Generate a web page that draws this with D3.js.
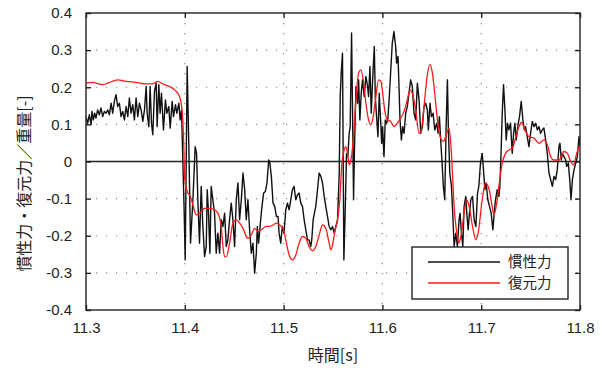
<!DOCTYPE html>
<html>
<head>
<meta charset="utf-8">
<script src="https://cdn.jsdelivr.net/npm/d3@7"></script>
<style>
  body { margin: 0; background: #fff; }
  svg text { font-family: "Liberation Sans", Arial, sans-serif; fill: #222; }
  .jp { font-family: "Noto Sans CJK JP", sans-serif; }
</style>
</head>
<body>
<svg id="chart" width="602" height="368"></svg>
<script>
// time [s] / value pairs
const inertiaT = [11.3000,11.3017,11.3034,11.3051,11.3061,11.3074,11.3088,11.3101,11.3118,11.3135,11.3152,11.3169,11.3186,11.3203,11.3220,11.3237,11.3254,11.3270,11.3287,11.3304,11.3321,11.3338,11.3355,11.3372,11.3389,11.3406,11.3423,11.3439,11.3456,11.3473,11.3490,11.3507,11.3524,11.3541,11.3558,11.3575,11.3592,11.3609,11.3619,11.3636,11.3649,11.3663,11.3676,11.3693,11.3710,11.3720,11.3737,11.3750,11.3764,11.3784,11.3804,11.3818,11.3838,11.3852,11.3872,11.3886,11.3906,11.3919,11.3940,11.3953,11.3967,11.3980,11.3994,11.4004,
  11.4024,11.4041,11.4058,11.4082,11.4105,11.4119,11.4132,11.4149,11.4166,11.4183,11.4200,11.4217,11.4227,11.4240,11.4254,11.4267,11.4284,11.4301,11.4318,11.4335,11.4352,11.4369,11.4386,11.4403,11.4420,11.4436,11.4453,11.4470,11.4487,11.4504,11.4521,11.4538,11.4555,11.4572,11.4589,11.4606,11.4622,11.4639,11.4656,11.4673,11.4690,11.4707,11.4724,11.4734,11.4747,11.4768,11.4781,11.4798,11.4815,11.4832,11.4849,11.4859,11.4876,11.4893,11.4910,11.4927,11.4944,11.4954,11.4971,11.4987,11.5004,
  11.5022,11.5039,11.5056,11.5073,11.5089,11.5106,11.5123,11.5140,11.5157,11.5174,11.5191,11.5208,11.5225,11.5242,11.5258,11.5275,11.5285,11.5299,11.5312,11.5326,11.5343,11.5360,11.5377,11.5394,11.5411,11.5427,11.5444,11.5461,11.5478,11.5495,11.5512,11.5529,11.5546,11.5563,11.5573,11.5583,11.5596,11.5610,11.5623,11.5637,11.5650,11.5664,11.5674,11.5688,11.5698,11.5708,11.5718,11.5732,11.5749,11.5759,11.5772,11.5786,11.5799,11.5816,11.5833,11.5850,11.5860,11.5874,11.5887,11.5901,11.5918,11.5928,11.5941,11.5955,11.5968,11.5985,
  11.5992,11.6002,11.6016,11.6029,11.6043,11.6056,11.6070,11.6083,11.6100,11.6117,11.6134,11.6144,11.6158,11.6168,11.6178,11.6192,11.6205,11.6219,11.6236,11.6252,11.6269,11.6286,11.6303,11.6320,11.6337,11.6354,11.6371,11.6388,11.6405,11.6421,11.6438,11.6455,11.6465,11.6482,11.6496,11.6513,11.6530,11.6550,11.6563,11.6577,11.6590,11.6604,11.6617,11.6631,11.6645,11.6658,11.6668,11.6682,11.6699,11.6712,11.6726,11.6743,11.6759,11.6776,11.6786,11.6800,11.6814,11.6827,11.6844,11.6854,11.6868,11.6881,11.6895,11.6912,11.6929,11.6946,11.6963,
  11.6976,11.6993,11.7010,11.7023,11.7037,11.7050,11.7067,11.7084,11.7101,11.7118,11.7132,11.7145,11.7162,11.7179,11.7189,11.7203,11.7213,11.7226,11.7240,11.7253,11.7267,11.7280,11.7297,11.7314,11.7328,11.7341,11.7355,11.7375,11.7388,11.7405,11.7422,11.7436,11.7449,11.7466,11.7483,11.7500,11.7517,11.7534,11.7551,11.7568,11.7585,11.7601,11.7618,11.7635,11.7652,11.7669,11.7686,11.7703,11.7720,11.7737,11.7754,11.7770,11.7787,11.7797,11.7811,11.7821,11.7838,11.7855,11.7865,11.7882,11.7896,11.7909,11.7923,11.7940,11.7957,11.7973,11.7990,11.8000];
const inertiaV = [0.121,0.103,0.126,0.099,0.135,0.112,0.130,0.117,0.139,0.126,0.144,0.121,0.135,0.130,0.139,0.126,0.157,0.130,0.162,0.180,0.148,0.157,0.121,0.135,0.112,0.148,0.121,0.171,0.130,0.153,0.112,0.171,0.121,0.157,0.139,0.108,0.139,0.202,0.130,0.094,0.202,0.103,0.072,0.189,0.211,0.094,0.207,0.130,0.184,0.085,0.166,0.130,0.148,0.090,0.162,0.121,0.153,0.130,0.157,0.112,0.139,0.004,-0.139,-0.265,
  0.256,0.040,-0.220,-0.103,0.040,0.022,-0.103,-0.220,-0.067,-0.175,-0.256,-0.229,-0.076,-0.139,-0.247,-0.067,-0.103,-0.139,-0.247,-0.193,-0.247,-0.157,-0.175,-0.139,-0.229,-0.211,-0.157,-0.112,-0.157,-0.229,-0.103,-0.058,-0.157,-0.103,-0.031,-0.076,-0.157,-0.103,-0.184,-0.247,-0.220,-0.301,-0.247,-0.175,-0.220,-0.157,-0.121,-0.085,-0.081,-0.058,0.004,0.000,-0.040,-0.112,-0.121,-0.148,-0.148,-0.193,-0.220,-0.175,-0.193,
  -0.130,-0.112,-0.130,-0.103,-0.076,-0.067,-0.103,-0.090,-0.085,-0.112,-0.121,-0.157,-0.184,-0.211,-0.211,-0.229,-0.211,-0.157,-0.139,-0.121,-0.076,-0.031,-0.040,-0.058,-0.094,-0.121,-0.148,-0.175,-0.184,-0.175,-0.193,-0.175,-0.157,-0.031,0.175,0.238,0.292,-0.265,-0.139,0.022,0.013,0.076,0.094,0.346,0.130,-0.103,0.040,0.202,0.157,0.220,0.112,0.184,0.220,0.175,0.229,0.202,0.175,0.256,0.130,0.220,0.310,0.175,0.121,0.067,0.184,0.094,
  0.049,0.094,0.013,0.112,0.103,0.117,0.175,0.238,0.319,0.350,0.310,0.265,0.283,0.202,0.112,0.058,0.094,0.076,0.130,0.148,0.184,0.220,0.202,0.130,0.112,0.211,0.166,0.076,0.094,0.148,0.157,0.139,0.085,0.157,0.121,0.130,0.085,0.103,0.076,0.121,0.058,-0.004,-0.067,-0.103,0.094,0.220,0.085,-0.031,-0.067,-0.139,-0.229,-0.193,-0.229,-0.157,-0.139,-0.193,-0.229,-0.121,-0.094,-0.139,-0.184,-0.139,-0.103,-0.094,-0.157,-0.175,-0.085,
  -0.067,-0.004,0.022,-0.022,-0.076,-0.058,-0.103,-0.121,-0.139,-0.184,-0.139,-0.103,-0.076,-0.094,-0.067,0.040,0.130,0.207,0.139,0.058,0.103,0.085,0.103,0.022,0.076,0.103,0.058,0.103,0.121,0.162,0.112,0.085,0.094,0.067,0.040,0.076,0.108,0.094,0.103,0.085,0.094,0.076,0.085,0.090,0.058,0.022,-0.031,-0.049,-0.067,-0.040,-0.049,-0.022,0.040,0.049,0.004,0.022,0.013,0.004,-0.013,-0.004,-0.049,-0.103,-0.049,-0.022,-0.004,0.013,0.067,0.045];

const restoringT = [11.3000,11.3068,11.3169,11.3220,11.3321,11.3406,11.3507,11.3609,11.3676,11.3727,11.3777,11.3845,11.3896,11.3946,11.3963,11.3980,11.3990,11.4000,
  11.4031,11.4048,11.4082,11.4115,11.4166,11.4200,11.4251,11.4301,11.4335,11.4369,11.4386,11.4403,11.4420,11.4453,11.4487,11.4521,11.4555,11.4589,11.4622,11.4639,11.4673,11.4707,11.4741,11.4774,11.4825,11.4859,11.4893,11.4927,11.4960,11.4994,
  11.5022,11.5056,11.5089,11.5123,11.5157,11.5191,11.5225,11.5258,11.5292,11.5326,11.5360,11.5394,11.5427,11.5461,11.5478,11.5495,11.5522,11.5546,11.5569,11.5590,11.5613,11.5630,11.5647,11.5664,11.5681,11.5705,11.5732,11.5759,11.5782,11.5806,11.5833,11.5860,11.5884,11.5907,11.5934,11.5961,11.5985,
  11.5999,11.6023,11.6050,11.6083,11.6117,11.6151,11.6185,11.6219,11.6252,11.6279,11.6303,11.6337,11.6371,11.6394,11.6421,11.6455,11.6482,11.6506,11.6533,11.6557,11.6584,11.6618,11.6641,11.6675,11.6692,11.6709,11.6726,11.6753,11.6770,11.6794,11.6827,11.6854,11.6878,11.6912,11.6946,11.6969,
  11.7010,11.7044,11.7077,11.7111,11.7128,11.7152,11.7179,11.7213,11.7246,11.7280,11.7314,11.7348,11.7382,11.7409,11.7443,11.7483,11.7534,11.7585,11.7635,11.7669,11.7703,11.7737,11.7787,11.7838,11.7872,11.7906,11.7933,11.7963,11.7990,11.8000];
const restoringV = [0.211,0.213,0.207,0.211,0.220,0.216,0.213,0.209,0.209,0.216,0.209,0.202,0.193,0.175,0.157,0.112,0.040,-0.049,
  -0.085,-0.090,-0.117,-0.144,-0.135,-0.126,-0.126,-0.130,-0.139,-0.175,-0.229,-0.256,-0.256,-0.220,-0.166,-0.157,-0.166,-0.180,-0.202,-0.207,-0.198,-0.180,-0.189,-0.184,-0.175,-0.175,-0.171,-0.166,-0.171,-0.180,
  -0.211,-0.252,-0.265,-0.252,-0.220,-0.202,-0.207,-0.229,-0.240,-0.229,-0.198,-0.171,-0.180,-0.220,-0.238,-0.225,-0.184,-0.157,-0.103,-0.004,0.031,0.040,0.022,-0.009,0.004,0.058,0.166,0.238,0.247,0.220,0.157,0.112,0.099,0.121,0.175,0.220,0.216,
  0.193,0.139,0.112,0.108,0.094,0.103,0.117,0.135,0.166,0.193,0.184,0.139,0.076,0.085,0.148,0.234,0.261,0.238,0.175,0.112,0.067,0.054,0.067,0.090,0.049,-0.031,-0.121,-0.193,-0.220,-0.202,-0.139,-0.103,-0.121,-0.175,-0.211,-0.193,
  -0.103,-0.058,-0.072,-0.121,-0.144,-0.121,-0.067,-0.004,0.022,0.031,0.036,0.063,0.094,0.105,0.085,0.067,0.063,0.049,0.058,0.045,0.013,0.004,0.004,0.027,0.022,0.000,-0.009,0.018,0.040,0.045];

const xTicks = [11.3, 11.4, 11.5, 11.6, 11.7, 11.8];
const xTickLabels = ["11.3", "11.4", "11.5", "11.6", "11.7", "11.8"];
const yTicks = [-0.4, -0.3, -0.2, -0.1, 0, 0.1, 0.2, 0.3, 0.4];
const yTickLabels = ["-0.4", "-0.3", "-0.2", "-0.1", "0", "0.1", "0.2", "0.3", "0.4"];
const seriesNames = ["慣性力", "復元力"];
const seriesColors = ["#111111", "#ff1a1a"];

const svg = d3.select("#chart");
const margin = {left: 86, top: 13, right: 22, bottom: 58};
const width = 602 - margin.left - margin.right;
const height = 368 - margin.top - margin.bottom;

const g = svg.append("g").attr("transform", `translate(${margin.left},${margin.top})`);

const x = d3.scaleLinear().domain([11.3, 11.8]).range([0, width]);
const y = d3.scaleLinear().domain([-0.4, 0.4]).range([height, 0]);

// dotted grid
g.append("g").selectAll("line.gy")
  .data(yTicks.filter(d => d !== 0 && d !== 0.4 && d !== -0.4))
  .enter().append("line")
  .attr("x1", 0).attr("x2", width)
  .attr("y1", d => y(d)).attr("y2", d => y(d))
  .attr("stroke", "#8a8a8a").attr("stroke-width", 1.2)
  .attr("stroke-dasharray", "1.2,8.8");
g.append("g").selectAll("line.gx")
  .data(xTicks.slice(1, -1))
  .enter().append("line")
  .attr("y1", 0).attr("y2", height)
  .attr("x1", d => x(d)).attr("x2", d => x(d))
  .attr("stroke", "#8a8a8a").attr("stroke-width", 1.2)
  .attr("stroke-dasharray", "1.2,8.8");

// zero line
g.append("line")
  .attr("x1", 0).attr("x2", width)
  .attr("y1", y(0)).attr("y2", y(0))
  .attr("stroke", "#222").attr("stroke-width", 1.4);

g.append("clipPath").attr("id", "clip")
  .append("rect").attr("width", width).attr("height", height);

const inertia = inertiaT.map((t, i) => [t, inertiaV[i]]);
const restoring = restoringT.map((t, i) => [t, restoringV[i]]);

const plot = g.append("g").attr("clip-path", "url(#clip)");
plot.append("path")
  .datum(inertia)
  .attr("fill", "none")
  .attr("stroke", seriesColors[0])
  .attr("stroke-width", 1.4)
  .attr("stroke-linejoin", "round")
  .attr("d", d3.line().x(d => x(d[0])).y(d => y(d[1])));
plot.append("path")
  .datum(restoring)
  .attr("fill", "none")
  .attr("stroke", seriesColors[1])
  .attr("stroke-width", 1.3)
  .attr("d", d3.line().curve(d3.curveMonotoneX).x(d => x(d[0])).y(d => y(d[1])));

// axes, ticks pointing inward on all four sides
const xAxis = g.append("g").attr("transform", `translate(0,${height})`)
  .call(d3.axisBottom(x).tickValues(xTicks).tickFormat((d, i) => xTickLabels[i])
    .tickSizeInner(-5).tickSizeOuter(0).tickPadding(12));
const yAxis = g.append("g")
  .call(d3.axisLeft(y).tickValues(yTicks).tickFormat((d, i) => yTickLabels[i])
    .tickSizeInner(-5).tickSizeOuter(0).tickPadding(14));
g.append("g")
  .call(d3.axisTop(x).tickValues(xTicks).tickFormat("").tickSizeInner(-5).tickSizeOuter(0));
g.append("g").attr("transform", `translate(${width},0)`)
  .call(d3.axisRight(y).tickValues(yTicks).tickFormat("").tickSizeInner(-5).tickSizeOuter(0));

g.selectAll(".domain").remove();
g.selectAll(".tick line").attr("stroke", "#222").attr("stroke-width", 1.4);
xAxis.selectAll("text").attr("font-size", 15).attr("fill", "#222");
yAxis.selectAll("text").attr("font-size", 15).attr("fill", "#222");

g.append("rect")
  .attr("width", width).attr("height", height)
  .attr("fill", "none").attr("stroke", "#222").attr("stroke-width", 1.4);

// axis titles
svg.append("text")
  .attr("class", "jp")
  .attr("transform", `translate(30,${margin.top + height / 2 + 22}) rotate(-90)`)
  .attr("text-anchor", "middle")
  .attr("font-size", 16)
  .text("慣性力・復元力／重量[-]");
svg.append("text")
  .attr("class", "jp")
  .attr("x", margin.left + width / 2)
  .attr("y", 361)
  .attr("text-anchor", "middle")
  .attr("font-size", 16)
  .text("時間[s]");

// legend
const legend = svg.append("g").attr("transform", "translate(412,247)");
legend.append("rect")
  .attr("width", 156).attr("height", 52)
  .attr("fill", "#fff").attr("stroke", "#222").attr("stroke-width", 1.4);
seriesNames.forEach((name, i) => {
  const ly = 15 + i * 21;
  legend.append("line")
    .attr("x1", 16).attr("x2", 88).attr("y1", ly).attr("y2", ly)
    .attr("stroke", seriesColors[i]).attr("stroke-width", 1.6);
  legend.append("text")
    .attr("class", "jp")
    .attr("x", 96).attr("y", ly + 5)
    .attr("font-size", 14.5)
    .text(name);
});
</script>
</body>
</html>
